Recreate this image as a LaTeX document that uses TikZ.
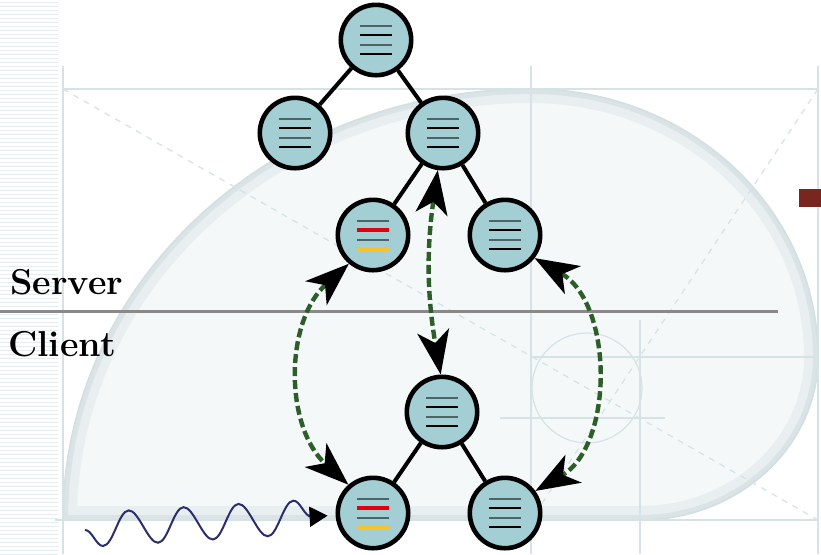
\documentclass[tikz,border=0pt]{standalone}
\usetikzlibrary{arrows.meta,decorations.pathmorphing}
\definecolor{recfill}{HTML}{A3CED4}
\definecolor{recbar}{HTML}{4B6466}
\definecolor{syncgreen}{HTML}{2D5E2A}
\definecolor{wavenavy}{HTML}{2C2E6C}
\definecolor{guideblue}{HTML}{D5E2E6}
\definecolor{bgfill}{HTML}{F5F8F9}
\definecolor{bgband}{HTML}{E9EFF1}
\definecolor{bgedge}{HTML}{D3DFE2}
\definecolor{stripe}{HTML}{E6ECEE}
\definecolor{dirtyred}{HTML}{E2000E}
\definecolor{dirtyyellow}{HTML}{F6C328}
\definecolor{brick}{HTML}{7A2620}
\definecolor{sepgray}{HTML}{898989}
\begin{document}
\begin{tikzpicture}[x=.5pt,y=.5pt,
  rec/.style={circle,draw,line width=2.3pt,fill=recfill,minimum size=35.2pt,inner sep=0pt,
    path picture={\foreach \dy/\col/\lw in {7.1/recbar/.8,2.4/black/.8,-2.4/recbar/.8,-7.1/black/.8}
      \draw[\col,line width=\lw pt] ([xshift=-8pt,yshift=\dy pt]path picture bounding box.center)--++(16pt,0pt);}},
  dirty/.style={rec,
    path picture={\foreach \dy/\col/\lw in {7.1/recbar/.8,2.4/dirtyred/2,-2.4/recbar/.8,-7.1/dirtyyellow/2}
      \draw[\col,line width=\lw pt] ([xshift=-8pt,yshift=\dy pt]path picture bounding box.center)--++(16pt,0pt);}},
  link/.style={line width=2pt},
  sync/.style={syncgreen,line width=2.2pt,dash pattern=on 4.5pt off 2pt,
    {Stealth[black,length=22pt,width=16pt,inset=6pt]}-{Stealth[black,length=22pt,width=16pt,inset=6pt]}},
  wave/.style={wavenavy,line width=1pt,decorate,
    decoration={snake,mirror,segment length=27.5pt,amplitude=8.5pt,post length=3pt},
    -{Triangle[black,length=9pt,width=10pt]}},
  tier/.style={font=\fontsize{18}{20}\selectfont\bfseries,anchor=base west,inner sep=0pt},
  guide/.style={guideblue,line width=.6pt}]
\useasboundingbox (0,0) rectangle (821,-554);
\fill[white] (0,0) rectangle (821,-554);

\foreach \y in {2,6,...,554}
{
    \draw[stripe,line width=.5pt] (0,-\y)--(58,-\y);
}
\def\spiral{(63,-520)
  arc[start angle=180,end angle=90,x radius=468,y radius=431]
  arc[start angle=90,end angle=0,x radius=287,y radius=268]
  arc[start angle=0,end angle=-90,x radius=178,y radius=163] -- cycle}
\fill[bgfill] \spiral;
\begin{scope}
\clip \spiral;
\draw[bgband,line width=14pt] \spiral;
\draw[bgedge!70!bgband,line width=5pt] \spiral;
\end{scope}
\draw[bgedge,line width=.8pt] \spiral;
\foreach \x in {63,531,818}
{
    \draw[guide] (\x,-66)--(\x,-554);
}
\draw[guide] (63,-89)--(818,-89);
\draw[guide] (55,-520)--(818,-520);
\draw[guide] (531,-357)--(818,-357);
\draw[guide] (640,-320)--(640,-554);
\draw[guide] (500,-418)--(665,-418);
\draw[guide] (587,-388) circle[radius=55];
\draw[guide,dashed] (63,-89)--(818,-520);
\draw[guide,dashed] (818,-89)--(531,-520);
\fill[brick] (799,-189) rectangle (821,-207);

\draw[sepgray,line width=1.5pt] (0,-311)--(778,-311);
\node[tier] (srvtxt) at (10,-294) {Server};
\node[tier] (clitxt) at (8,-356) {Client};

\foreach \nm/\x/\y in {sroot/376/40,sl/295/133,sr/443/133,srr/505/235,cr/442/412,crr/505/513}
{
    \node[rec] (\nm) at (\x,-\y) {};
}
\foreach \nm/\x/\y in {srl/373/235,crl/373/513}
{
    \node[dirty] (\nm) at (\x,-\y) {};
}
\foreach \a/\b in {sroot/sl,sroot/sr,sr/srl,sr/srr,cr/crl,cr/crr}
{
    \draw[link] (\a)--(\b);
}

\draw[sync] (srl.230) to[bend right=48] (crl.131);
\draw[sync] (sr.262) to[bend right=9] (cr.92);
\draw[sync] (srr.322) to[bend left=60] (crr.36);

\coordinate (wavein) at (85,-530);
\draw[wave,shorten >=4pt] (wavein)--(crl);
\end{tikzpicture}
\end{document}
